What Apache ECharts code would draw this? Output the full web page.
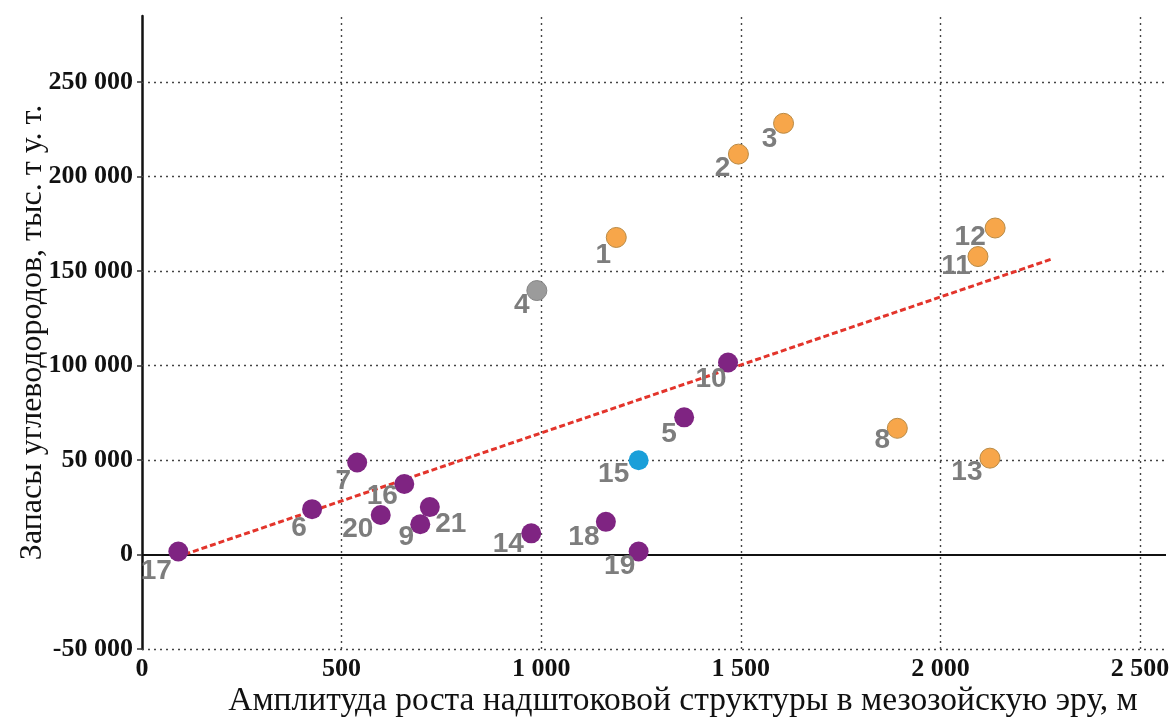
<!DOCTYPE html>
<html>
<head>
<meta charset="utf-8">
<script src="https://cdn.jsdelivr.net/npm/echarts@6/dist/echarts.min.js"></script>
<style>
html,body{margin:0;padding:0;background:#fff;}
#c{width:1173px;height:720px;}
</style>
</head>
<body>
<div id="c"></div>
<script>
// ---- data ----
var pointLabels = ['1','2','3','4','5','6','7','8','9','10','11','12','13','14','15','16','17','18','19','20','21'];
var amplitude   = [1188,1494,1607,989,1358,426,539,1892,697,1468,2094,2137,2124,975,1244,657,91,1162,1244,598,721];
var reserves    = [167800,211900,228200,139700,72600,24000,48700,66800,16000,101600,157700,172800,51000,11200,49900,37300,1600,17300,1600,20900,25100];
var groups      = ['o','o','o','g','p','p','p','o','p','p','o','o','o','p','b','p','p','p','p','p','p'];
var trendX = [85, 2282];
var trendY = [-1500, 156600];
var xTicks = [0,500,1000,1500,2000,2500];
var yTicks = [-50000,0,50000,100000,150000,200000,250000];
var xName = 'Амплитуда роста надштоковой структуры в мезозойскую эру, м';
var yName = 'Запасы углеводородов, тыс. т у. т.';

// ---- styles ----
var groupStyle = {
  p: {color:'#7f2482', borderColor:'#7f2482', borderWidth:0},
  o: {color:'#f7a64a', borderColor:'#b98a45', borderWidth:1},
  g: {color:'#9b9b9b', borderColor:'#858585', borderWidth:1},
  b: {color:'#1a9fd9', borderColor:'#1a9fd9', borderWidth:0}
};
var labelOffsets = {
  '1':[-13,18],'2':[-16,14],'3':[-14,16],'4':[-15,15],'5':[-15,17],'6':[-13,19],'7':[-14,19],
  '8':[-15,12],'9':[-14,13],'10':[-17,17],'11':[-22,10],'12':[-25,9],'13':[-23,14],'14':[-23,11],
  '15':[-25,14],'16':[-22,12],'17':[-22,20],'18':[-22,15],'19':[-19,15],'20':[-23,14],'21':[21,17]
};

function fmt(v){
  var s = String(Math.abs(v)).replace(/\B(?=(\d{3})+(?!\d))/g,' ');
  return (v<0?'-':'') + s;
}

var seriesByGroup = {p:[],o:[],g:[],b:[]};
for (var i=0;i<pointLabels.length;i++){
  seriesByGroup[groups[i]].push({
    value:[amplitude[i], reserves[i]],
    name: pointLabels[i],
    label:{offset: labelOffsets[pointLabels[i]]}
  });
}

var labelStyle = {
  show:true, position:'inside', formatter:'{b}',
  color:'#7d7d7d', fontFamily:'Liberation Sans, Arial, sans-serif', fontWeight:'bold', fontSize:28
};

var gridLineStyle = {type:[2,4], color:'#444', width:1.4};
var markLineData = [];
for (var k=0;k<xTicks.length;k++){ if (xTicks[k]!==0) markLineData.push({xAxis:xTicks[k], lineStyle:gridLineStyle}); }
for (var k2=0;k2<yTicks.length;k2++){
  if (yTicks[k2]===0) markLineData.push({yAxis:0, lineStyle:{type:'solid', color:'#111', width:2}});
  else markLineData.push({yAxis:yTicks[k2], lineStyle:gridLineStyle});
}

var series = [
  {
    type:'line', data:[], silent:true, z:1,
    markLine:{silent:true, z:1, symbol:['none','none'], label:{show:false}, animation:false, data:markLineData}
  },
  {
    type:'line', data:[[trendX[0],trendY[0]],[trendX[1],trendY[1]]],
    symbol:'none', silent:true, z:3,
    lineStyle:{color:'#e3342b', width:3, type:[6,3]}
  }
];
['p','g','o','b'].forEach(function(g){
  var st = groupStyle[g];
  series.push({
    type:'scatter', symbolSize:20, z:4,
    itemStyle:{color:st.color, borderColor:st.borderColor, borderWidth:st.borderWidth, opacity:1},
    label:labelStyle,
    data:seriesByGroup[g]
  });
});

var chart = echarts.init(document.getElementById('c'), null, {renderer:'canvas'});
chart.setOption({
  animation:false,
  backgroundColor:'#fff',
  grid:{left:142, right:7, top:16, bottom:71, containLabel:false, outerBoundsMode:'none'},
  xAxis:{
    type:'value', min:0, max:2565, interval:500,
    axisLine:{show:false}, axisTick:{show:false}, splitLine:{show:false},
    axisLabel:{
      showMaxLabel:false, margin:7, color:'#111',
      fontFamily:'Liberation Serif, Times New Roman, serif', fontWeight:'bold', fontSize:26,
      formatter:function(v){ return fmt(v); }
    },
    name:xName, nameLocation:'middle', nameGap:35, nameMoveOverlap:false,
    nameTextStyle:{fontFamily:'Liberation Serif, Times New Roman, serif', fontSize:33.5, color:'#111', padding:[0,0,0,58]}
  },
  yAxis:{
    type:'value', min:-50000, max:285000, interval:50000,
    axisLine:{show:true, onZero:false, lineStyle:{color:'#111', width:2.5}},
    axisTick:{show:true, length:5, customValues:yTicks, lineStyle:{color:'#333', width:1.5}},
    splitLine:{show:false},
    axisLabel:{
      showMaxLabel:false, margin:9, color:'#111',
      fontFamily:'Liberation Serif, Times New Roman, serif', fontWeight:'bold', fontSize:26,
      formatter:function(v){ return fmt(v); }
    },
    name:yName, nameLocation:'middle', nameGap:93, nameMoveOverlap:false,
    nameTextStyle:{fontFamily:'Liberation Serif, Times New Roman, serif', fontSize:32, color:'#111'}
  },
  series:series
});
</script>
</body>
</html>
